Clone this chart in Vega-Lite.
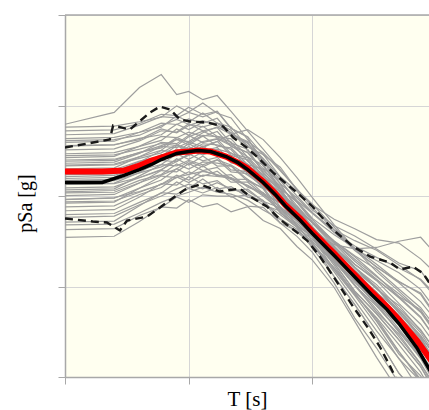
{
"$schema":"https://vega.github.io/schema/vega-lite/v6.json",
"width":364,"height":362,
"autosize":"none",
"padding":{"left":65,"top":15,"right":0,"bottom":33},
"background":"white",
"config":{"view":{"fill":"#FFFFF0","stroke":null},
"axis":{"labels":false,"grid":true,"gridColor":"#d6d6d6","gridWidth":1,"domainColor":"#a8a8a8","domainWidth":1.5,"tickColor":"#a8a8a8","tickSize":7,"tickWidth":1,"titleFont":"Liberation Serif","titleFontSize":20,"titleFontWeight":"normal","titleColor":"#000000"}},
"datasets":{
"gray":[
{"c":1,"T":0.01,"v":0.62},{"c":1,"T":0.025,"v":0.84},{"c":1,"T":0.04,"v":1.58},{"c":1,"T":0.06,"v":2.2},{"c":1,"T":0.08,"v":1.32},{"c":1,"T":0.1,"v":1.43},{"c":1,"T":0.13,"v":1.16},{"c":1,"T":0.17,"v":1.29},{"c":1,"T":0.22,"v":0.86},{"c":1,"T":0.3,"v":0.52},{"c":1,"T":0.4,"v":0.33},{"c":1,"T":0.55,"v":0.196},{"c":1,"T":0.75,"v":0.118},{"c":1,"T":1,"v":0.081},{"c":1,"T":1.5,"v":0.045},{"c":1,"T":2.2,"v":0.026},{"c":1,"T":3.3,"v":0.0146},{"c":1,"T":5,"v":0.0089},{"c":1,"T":7.5,"v":0.0053},{"c":1,"T":10,"v":0.0033},
{"c":2,"T":0.01,"v":0.524},{"c":2,"T":0.025,"v":0.538},{"c":2,"T":0.04,"v":0.632},{"c":2,"T":0.06,"v":0.8},{"c":2,"T":0.08,"v":0.774},{"c":2,"T":0.1,"v":0.955},{"c":2,"T":0.13,"v":0.796},{"c":2,"T":0.17,"v":0.867},{"c":2,"T":0.22,"v":0.561},{"c":2,"T":0.3,"v":0.452},{"c":2,"T":0.4,"v":0.285},{"c":2,"T":0.55,"v":0.208},{"c":2,"T":0.75,"v":0.117},{"c":2,"T":1,"v":0.0796},{"c":2,"T":1.5,"v":0.0553},{"c":2,"T":2.2,"v":0.0435},{"c":2,"T":3.3,"v":0.033},{"c":2,"T":5,"v":0.0302},{"c":2,"T":7.5,"v":0.0202},{"c":2,"T":10,"v":0.0138},
{"c":3,"T":0.01,"v":0.431},{"c":3,"T":0.025,"v":0.444},{"c":3,"T":0.04,"v":0.506},{"c":3,"T":0.06,"v":0.575},{"c":3,"T":0.08,"v":0.769},{"c":3,"T":0.1,"v":0.656},{"c":3,"T":0.13,"v":0.828},{"c":3,"T":0.17,"v":0.638},{"c":3,"T":0.22,"v":0.579},{"c":3,"T":0.3,"v":0.347},{"c":3,"T":0.4,"v":0.288},{"c":3,"T":0.55,"v":0.163},{"c":3,"T":0.75,"v":0.113},{"c":3,"T":1,"v":0.07},{"c":3,"T":1.5,"v":0.0468},{"c":3,"T":2.2,"v":0.0362},{"c":3,"T":3.3,"v":0.0259},{"c":3,"T":5,"v":0.0182},{"c":3,"T":7.5,"v":0.0149},{"c":3,"T":10,"v":0.00873},
{"c":4,"T":0.01,"v":0.392},{"c":4,"T":0.025,"v":0.403},{"c":4,"T":0.04,"v":0.507},{"c":4,"T":0.06,"v":0.637},{"c":4,"T":0.08,"v":0.617},{"c":4,"T":0.1,"v":0.71},{"c":4,"T":0.13,"v":0.634},{"c":4,"T":0.17,"v":0.723},{"c":4,"T":0.22,"v":0.479},{"c":4,"T":0.3,"v":0.391},{"c":4,"T":0.4,"v":0.215},{"c":4,"T":0.55,"v":0.137},{"c":4,"T":0.75,"v":0.0718},{"c":4,"T":1,"v":0.0462},{"c":4,"T":1.5,"v":0.0242},{"c":4,"T":2.2,"v":0.015},{"c":4,"T":3.3,"v":0.00957},{"c":4,"T":5,"v":0.0051},{"c":4,"T":7.5,"v":0.00289},{"c":4,"T":10,"v":0.00164},
{"c":5,"T":0.01,"v":0.356},{"c":5,"T":0.025,"v":0.366},{"c":5,"T":0.04,"v":0.434},{"c":5,"T":0.06,"v":0.475},{"c":5,"T":0.08,"v":0.621},{"c":5,"T":0.1,"v":0.542},{"c":5,"T":0.13,"v":0.653},{"c":5,"T":0.17,"v":0.634},{"c":5,"T":0.22,"v":0.533},{"c":5,"T":0.3,"v":0.313},{"c":5,"T":0.4,"v":0.247},{"c":5,"T":0.55,"v":0.137},{"c":5,"T":0.75,"v":0.0951},{"c":5,"T":1,"v":0.0644},{"c":5,"T":1.5,"v":0.0395},{"c":5,"T":2.2,"v":0.0257},{"c":5,"T":3.3,"v":0.0194},{"c":5,"T":5,"v":0.0142},{"c":5,"T":7.5,"v":0.0093},{"c":5,"T":10,"v":0.00553},
{"c":6,"T":0.01,"v":0.323},{"c":6,"T":0.025,"v":0.332},{"c":6,"T":0.04,"v":0.406},{"c":6,"T":0.06,"v":0.526},{"c":6,"T":0.08,"v":0.509},{"c":6,"T":0.1,"v":0.628},{"c":6,"T":0.13,"v":0.524},{"c":6,"T":0.17,"v":0.57},{"c":6,"T":0.22,"v":0.384},{"c":6,"T":0.3,"v":0.329},{"c":6,"T":0.4,"v":0.181},{"c":6,"T":0.55,"v":0.118},{"c":6,"T":0.75,"v":0.0611},{"c":6,"T":1,"v":0.0378},{"c":6,"T":1.5,"v":0.0191},{"c":6,"T":2.2,"v":0.01026},{"c":6,"T":3.3,"v":0.00526},{"c":6,"T":5,"v":0.00297},{"c":6,"T":7.5,"v":0.0014},{"c":6,"T":10,"v":0.000767},
{"c":7,"T":0.01,"v":0.293},{"c":7,"T":0.025,"v":0.301},{"c":7,"T":0.04,"v":0.354},{"c":7,"T":0.06,"v":0.411},{"c":7,"T":0.08,"v":0.55},{"c":7,"T":0.1,"v":0.469},{"c":7,"T":0.13,"v":0.592},{"c":7,"T":0.17,"v":0.456},{"c":7,"T":0.22,"v":0.428},{"c":7,"T":0.3,"v":0.269},{"c":7,"T":0.4,"v":0.22},{"c":7,"T":0.55,"v":0.123},{"c":7,"T":0.75,"v":0.0853},{"c":7,"T":1,"v":0.0521},{"c":7,"T":1.5,"v":0.0316},{"c":7,"T":2.2,"v":0.0213},{"c":7,"T":3.3,"v":0.01315},{"c":7,"T":5,"v":0.00776},{"c":7,"T":7.5,"v":0.00556},{"c":7,"T":10,"v":0.00301},
{"c":8,"T":0.01,"v":0.266},{"c":8,"T":0.025,"v":0.274},{"c":8,"T":0.04,"v":0.356},{"c":8,"T":0.06,"v":0.455},{"c":8,"T":0.08,"v":0.441},{"c":8,"T":0.1,"v":0.507},{"c":8,"T":0.13,"v":0.453},{"c":8,"T":0.17,"v":0.516},{"c":8,"T":0.22,"v":0.353},{"c":8,"T":0.3,"v":0.303},{"c":8,"T":0.4,"v":0.201},{"c":8,"T":0.55,"v":0.149},{"c":8,"T":0.75,"v":0.0887},{"c":8,"T":1,"v":0.0644},{"c":8,"T":1.5,"v":0.0423},{"c":8,"T":2.2,"v":0.0321},{"c":8,"T":3.3,"v":0.0252},{"c":8,"T":5,"v":0.0173},{"c":8,"T":7.5,"v":0.0118},{"c":8,"T":10,"v":0.0075},
{"c":9,"T":0.01,"v":0.242},{"c":9,"T":0.025,"v":0.248},{"c":9,"T":0.04,"v":0.303},{"c":9,"T":0.06,"v":0.34},{"c":9,"T":0.08,"v":0.444},{"c":9,"T":0.1,"v":0.387},{"c":9,"T":0.13,"v":0.467},{"c":9,"T":0.17,"v":0.453},{"c":9,"T":0.22,"v":0.394},{"c":9,"T":0.3,"v":0.242},{"c":9,"T":0.4,"v":0.172},{"c":9,"T":0.55,"v":0.0873},{"c":9,"T":0.75,"v":0.057},{"c":9,"T":1,"v":0.0357},{"c":9,"T":1.5,"v":0.0171},{"c":9,"T":2.2,"v":0.00822},{"c":9,"T":3.3,"v":0.00454},{"c":9,"T":5,"v":0.00228},{"c":9,"T":7.5,"v":0.00113},{"c":9,"T":10,"v":0.000566},
{"c":10,"T":0.01,"v":0.23},{"c":10,"T":0.025,"v":0.237},{"c":10,"T":0.04,"v":0.296},{"c":10,"T":0.06,"v":0.392},{"c":10,"T":0.08,"v":0.379},{"c":10,"T":0.1,"v":0.468},{"c":10,"T":0.13,"v":0.39},{"c":10,"T":0.17,"v":0.425},{"c":10,"T":0.22,"v":0.294},{"c":10,"T":0.3,"v":0.264},{"c":10,"T":0.4,"v":0.164},{"c":10,"T":0.55,"v":0.12},{"c":10,"T":0.75,"v":0.0679},{"c":10,"T":1,"v":0.0456},{"c":10,"T":1.5,"v":0.0267},{"c":10,"T":2.2,"v":0.0162},{"c":10,"T":3.3,"v":0.0094},{"c":10,"T":5,"v":0.00618},{"c":10,"T":7.5,"v":0.00325},{"c":10,"T":10,"v":0.00191},
{"c":11,"T":0.01,"v":0.219},{"c":11,"T":0.025,"v":0.225},{"c":11,"T":0.04,"v":0.271},{"c":11,"T":0.06,"v":0.32},{"c":11,"T":0.08,"v":0.428},{"c":11,"T":0.1,"v":0.365},{"c":11,"T":0.13,"v":0.46},{"c":11,"T":0.17,"v":0.355},{"c":11,"T":0.22,"v":0.34},{"c":11,"T":0.3,"v":0.222},{"c":11,"T":0.4,"v":0.198},{"c":11,"T":0.55,"v":0.119},{"c":11,"T":0.75,"v":0.0879},{"c":11,"T":1,"v":0.0566},{"c":11,"T":1.5,"v":0.0374},{"c":11,"T":2.2,"v":0.0267},{"c":11,"T":3.3,"v":0.0176},{"c":11,"T":5,"v":0.0112},{"c":11,"T":7.5,"v":0.00847},{"c":11,"T":10,"v":0.00475},
{"c":12,"T":0.01,"v":0.199},{"c":12,"T":0.025,"v":0.205},{"c":12,"T":0.04,"v":0.272},{"c":12,"T":0.06,"v":0.353},{"c":12,"T":0.08,"v":0.342},{"c":12,"T":0.1,"v":0.394},{"c":12,"T":0.13,"v":0.352},{"c":12,"T":0.17,"v":0.401},{"c":12,"T":0.22,"v":0.281},{"c":12,"T":0.3,"v":0.251},{"c":12,"T":0.4,"v":0.148},{"c":12,"T":0.55,"v":0.1},{"c":12,"T":0.75,"v":0.0558},{"c":12,"T":1,"v":0.0374},{"c":12,"T":1.5,"v":0.0193},{"c":12,"T":2.2,"v":0.0111},{"c":12,"T":3.3,"v":0.0065},{"c":12,"T":5,"v":0.00313},{"c":12,"T":7.5,"v":0.00165},{"c":12,"T":10,"v":0.000893},
{"c":13,"T":0.01,"v":0.19},{"c":13,"T":0.025,"v":0.195},{"c":13,"T":0.04,"v":0.243},{"c":13,"T":0.06,"v":0.275},{"c":13,"T":0.08,"v":0.36},{"c":13,"T":0.1,"v":0.314},{"c":13,"T":0.13,"v":0.378},{"c":13,"T":0.17,"v":0.367},{"c":13,"T":0.22,"v":0.326},{"c":13,"T":0.3,"v":0.207},{"c":13,"T":0.4,"v":0.172},{"c":13,"T":0.55,"v":0.0998},{"c":13,"T":0.75,"v":0.0726},{"c":13,"T":1,"v":0.0505},{"c":13,"T":1.5,"v":0.0299},{"c":13,"T":2.2,"v":0.0176},{"c":13,"T":3.3,"v":0.0119},{"c":13,"T":5,"v":0.00771},{"c":13,"T":7.5,"v":0.00461},{"c":13,"T":10,"v":0.00259},
{"c":14,"T":0.01,"v":0.181},{"c":14,"T":0.025,"v":0.186},{"c":14,"T":0.04,"v":0.238},{"c":14,"T":0.06,"v":0.318},{"c":14,"T":0.08,"v":0.308},{"c":14,"T":0.1,"v":0.379},{"c":14,"T":0.13,"v":0.316},{"c":14,"T":0.17,"v":0.344},{"c":14,"T":0.22,"v":0.243},{"c":14,"T":0.3,"v":0.225},{"c":14,"T":0.4,"v":0.129},{"c":14,"T":0.55,"v":0.0875},{"c":14,"T":0.75,"v":0.0471},{"c":14,"T":1,"v":0.0297},{"c":14,"T":1.5,"v":0.0145},{"c":14,"T":2.2,"v":0.00702},{"c":14,"T":3.3,"v":0.00324},{"c":14,"T":5,"v":0.00161},{"c":14,"T":7.5,"v":0.000693},{"c":14,"T":10,"v":0.000359},
{"c":15,"T":0.01,"v":0.164},{"c":15,"T":0.025,"v":0.169},{"c":15,"T":0.04,"v":0.207},{"c":15,"T":0.06,"v":0.248},{"c":15,"T":0.08,"v":0.332},{"c":15,"T":0.1,"v":0.283},{"c":15,"T":0.13,"v":0.357},{"c":15,"T":0.17,"v":0.275},{"c":15,"T":0.22,"v":0.271},{"c":15,"T":0.3,"v":0.184},{"c":15,"T":0.4,"v":0.157},{"c":15,"T":0.55,"v":0.0914},{"c":15,"T":0.75,"v":0.0658},{"c":15,"T":1,"v":0.041},{"c":15,"T":1.5,"v":0.0239},{"c":15,"T":2.2,"v":0.0146},{"c":15,"T":3.3,"v":0.00811},{"c":15,"T":5,"v":0.00422},{"c":15,"T":7.5,"v":0.00275},{"c":15,"T":10,"v":0.00141},
{"c":16,"T":0.01,"v":0.156},{"c":16,"T":0.025,"v":0.161},{"c":16,"T":0.04,"v":0.218},{"c":16,"T":0.06,"v":0.286},{"c":16,"T":0.08,"v":0.277},{"c":16,"T":0.1,"v":0.319},{"c":16,"T":0.13,"v":0.285},{"c":16,"T":0.17,"v":0.325},{"c":16,"T":0.22,"v":0.232},{"c":16,"T":0.3,"v":0.214},{"c":16,"T":0.4,"v":0.146},{"c":16,"T":0.55,"v":0.112},{"c":16,"T":0.75,"v":0.069},{"c":16,"T":1,"v":0.0509},{"c":16,"T":1.5,"v":0.0319},{"c":16,"T":2.2,"v":0.0219},{"c":16,"T":3.3,"v":0.0155},{"c":16,"T":5,"v":0.0094},{"c":16,"T":7.5,"v":0.00583},{"c":16,"T":10,"v":0.00351},
{"c":17,"T":0.01,"v":0.149},{"c":17,"T":0.025,"v":0.153},{"c":17,"T":0.04,"v":0.194},{"c":17,"T":0.06,"v":0.223},{"c":17,"T":0.08,"v":0.291},{"c":17,"T":0.1,"v":0.254},{"c":17,"T":0.13,"v":0.306},{"c":17,"T":0.17,"v":0.297},{"c":17,"T":0.22,"v":0.269},{"c":17,"T":0.3,"v":0.176},{"c":17,"T":0.4,"v":0.138},{"c":17,"T":0.55,"v":0.076},{"c":17,"T":0.75,"v":0.0532},{"c":17,"T":1,"v":0.0354},{"c":17,"T":1.5,"v":0.0181},{"c":17,"T":2.2,"v":0.00887},{"c":17,"T":3.3,"v":0.005},{"c":17,"T":5,"v":0.00257},{"c":17,"T":7.5,"v":0.0013},{"c":17,"T":10,"v":0.000659},
{"c":18,"T":0.01,"v":0.135},{"c":18,"T":0.025,"v":0.139},{"c":18,"T":0.04,"v":0.182},{"c":18,"T":0.06,"v":0.247},{"c":18,"T":0.08,"v":0.239},{"c":18,"T":0.1,"v":0.294},{"c":18,"T":0.13,"v":0.245},{"c":18,"T":0.17,"v":0.267},{"c":18,"T":0.22,"v":0.194},{"c":18,"T":0.3,"v":0.186},{"c":18,"T":0.4,"v":0.126},{"c":18,"T":0.55,"v":0.0984},{"c":18,"T":0.75,"v":0.0593},{"c":18,"T":1,"v":0.0418},{"c":18,"T":1.5,"v":0.0253},{"c":18,"T":2.2,"v":0.015},{"c":18,"T":3.3,"v":0.00853},{"c":18,"T":5,"v":0.00547},{"c":18,"T":7.5,"v":0.00282},{"c":18,"T":10,"v":0.00164},
{"c":19,"T":0.01,"v":0.123},{"c":19,"T":0.025,"v":0.126},{"c":19,"T":0.04,"v":0.159},{"c":19,"T":0.06,"v":0.193},{"c":19,"T":0.08,"v":0.258},{"c":19,"T":0.1,"v":0.22},{"c":19,"T":0.13,"v":0.277},{"c":19,"T":0.17,"v":0.214},{"c":19,"T":0.22,"v":0.216},{"c":19,"T":0.3,"v":0.152},{"c":19,"T":0.4,"v":0.12},{"c":19,"T":0.55,"v":0.0656},{"c":19,"T":0.75,"v":0.0451},{"c":19,"T":1,"v":0.0266},{"c":19,"T":1.5,"v":0.0129},{"c":19,"T":2.2,"v":0.00631},{"c":19,"T":3.3,"v":0.0028},{"c":19,"T":5,"v":0.0011},{"c":19,"T":7.5,"v":0.000587},{"c":19,"T":10,"v":0.000265},
{"c":20,"T":0.01,"v":0.117},{"c":20,"T":0.025,"v":0.12},{"c":20,"T":0.04,"v":0.167},{"c":20,"T":0.06,"v":0.222},{"c":20,"T":0.08,"v":0.215},{"c":20,"T":0.1,"v":0.248},{"c":20,"T":0.13,"v":0.221},{"c":20,"T":0.17,"v":0.252},{"c":20,"T":0.22,"v":0.185},{"c":20,"T":0.3,"v":0.177},{"c":20,"T":0.4,"v":0.123},{"c":20,"T":0.55,"v":0.0955},{"c":20,"T":0.75,"v":0.0597},{"c":20,"T":1,"v":0.0444},{"c":20,"T":1.5,"v":0.027},{"c":20,"T":2.2,"v":0.0175},{"c":20,"T":3.3,"v":0.0116},{"c":20,"T":5,"v":0.00652},{"c":20,"T":7.5,"v":0.00383},{"c":20,"T":10,"v":0.00222},
{"c":21,"T":0.01,"v":0.111},{"c":21,"T":0.025,"v":0.115},{"c":21,"T":0.04,"v":0.149},{"c":21,"T":0.06,"v":0.173},{"c":21,"T":0.08,"v":0.226},{"c":21,"T":0.1,"v":0.198},{"c":21,"T":0.13,"v":0.238},{"c":21,"T":0.17,"v":0.231},{"c":21,"T":0.22,"v":0.214},{"c":21,"T":0.3,"v":0.146},{"c":21,"T":0.4,"v":0.123},{"c":21,"T":0.55,"v":0.0721},{"c":21,"T":0.75,"v":0.0532},{"c":21,"T":1,"v":0.0371},{"c":21,"T":1.5,"v":0.0202},{"c":21,"T":2.2,"v":0.0103},{"c":21,"T":3.3,"v":0.00607},{"c":21,"T":5,"v":0.00328},{"c":21,"T":7.5,"v":0.00173},{"c":21,"T":10,"v":0.000893},
{"c":22,"T":0.01,"v":0.101},{"c":22,"T":0.025,"v":0.104},{"c":22,"T":0.04,"v":0.139},{"c":22,"T":0.06,"v":0.191},{"c":22,"T":0.08,"v":0.185},{"c":22,"T":0.1,"v":0.229},{"c":22,"T":0.13,"v":0.191},{"c":22,"T":0.17,"v":0.207},{"c":22,"T":0.22,"v":0.154},{"c":22,"T":0.3,"v":0.153},{"c":22,"T":0.4,"v":0.107},{"c":22,"T":0.55,"v":0.0855},{"c":22,"T":0.75,"v":0.0528},{"c":22,"T":1,"v":0.0378},{"c":22,"T":1.5,"v":0.0226},{"c":22,"T":2.2,"v":0.0129},{"c":22,"T":3.3,"v":0.00703},{"c":22,"T":5,"v":0.00429},{"c":22,"T":7.5,"v":0.00213},{"c":22,"T":10,"v":0.00121},
{"c":23,"T":0.01,"v":0.0918},{"c":23,"T":0.025,"v":0.0944},{"c":23,"T":0.04,"v":0.122},{"c":23,"T":0.06,"v":0.15},{"c":23,"T":0.08,"v":0.2},{"c":23,"T":0.1,"v":0.171},{"c":23,"T":0.13,"v":0.216},{"c":23,"T":0.17,"v":0.166},{"c":23,"T":0.22,"v":0.172},{"c":23,"T":0.3,"v":0.125},{"c":23,"T":0.4,"v":0.109},{"c":23,"T":0.55,"v":0.065},{"c":23,"T":0.75,"v":0.0478},{"c":23,"T":1,"v":0.03},{"c":23,"T":1.5,"v":0.0161},{"c":23,"T":2.2,"v":0.00855},{"c":23,"T":3.3,"v":0.00412},{"c":23,"T":5,"v":0.00179},{"c":23,"T":7.5,"v":0.00103},{"c":23,"T":10,"v":0.000486},
{"c":24,"T":0.01,"v":0.0834},{"c":24,"T":0.025,"v":0.0857},{"c":24,"T":0.04,"v":0.122},{"c":24,"T":0.06,"v":0.166},{"c":24,"T":0.08,"v":0.16},{"c":24,"T":0.1,"v":0.185},{"c":24,"T":0.13,"v":0.165},{"c":24,"T":0.17,"v":0.188},{"c":24,"T":0.22,"v":0.142},{"c":24,"T":0.3,"v":0.142},{"c":24,"T":0.4,"v":0.103},{"c":24,"T":0.55,"v":0.0836},{"c":24,"T":0.75,"v":0.0542},{"c":24,"T":1,"v":0.0414},{"c":24,"T":1.5,"v":0.0255},{"c":24,"T":2.2,"v":0.0162},{"c":24,"T":3.3,"v":0.0105},{"c":24,"T":5,"v":0.00577},{"c":24,"T":7.5,"v":0.00333},{"c":24,"T":10,"v":0.00191},
{"c":25,"T":0.01,"v":0.0757},{"c":25,"T":0.025,"v":0.0778},{"c":25,"T":0.04,"v":0.104},{"c":25,"T":0.06,"v":0.124},{"c":25,"T":0.08,"v":0.162},{"c":25,"T":0.1,"v":0.141},{"c":25,"T":0.13,"v":0.17},{"c":25,"T":0.17,"v":0.165},{"c":25,"T":0.22,"v":0.158},{"c":25,"T":0.3,"v":0.113},{"c":25,"T":0.4,"v":0.0893},{"c":25,"T":0.55,"v":0.0501},{"c":25,"T":0.75,"v":0.0358},{"c":25,"T":1,"v":0.0238},{"c":25,"T":1.5,"v":0.0109},{"c":25,"T":2.2,"v":0.00448},{"c":25,"T":3.3,"v":0.00209},{"c":25,"T":5,"v":0.000857},{"c":25,"T":7.5,"v":0.000368},{"c":25,"T":10,"v":0.000168},
{"c":26,"T":0.01,"v":0.0687},{"c":26,"T":0.025,"v":0.0706},{"c":26,"T":0.04,"v":0.0975},{"c":26,"T":0.06,"v":0.137},{"c":26,"T":0.08,"v":0.132},{"c":26,"T":0.1,"v":0.163},{"c":26,"T":0.13,"v":0.136},{"c":26,"T":0.17,"v":0.148},{"c":26,"T":0.22,"v":0.114},{"c":26,"T":0.3,"v":0.119},{"c":26,"T":0.4,"v":0.0875},{"c":26,"T":0.55,"v":0.0736},{"c":26,"T":0.75,"v":0.0475},{"c":26,"T":1,"v":0.0351},{"c":26,"T":1.5,"v":0.0214},{"c":26,"T":2.2,"v":0.0119},{"c":26,"T":3.3,"v":0.00638},{"c":26,"T":5,"v":0.00379},{"c":26,"T":7.5,"v":0.00185},{"c":26,"T":10,"v":0.00104},
{"c":27,"T":0.01,"v":0.0624},{"c":27,"T":0.025,"v":0.0641},{"c":27,"T":0.04,"v":0.0851},{"c":27,"T":0.06,"v":0.107},{"c":27,"T":0.08,"v":0.143},{"c":27,"T":0.1,"v":0.122},{"c":27,"T":0.13,"v":0.154},{"c":27,"T":0.17,"v":0.119},{"c":27,"T":0.22,"v":0.127},{"c":27,"T":0.3,"v":0.0973},{"c":27,"T":0.4,"v":0.0893},{"c":27,"T":0.55,"v":0.056},{"c":27,"T":0.75,"v":0.043},{"c":27,"T":1,"v":0.0279},{"c":27,"T":1.5,"v":0.0153},{"c":27,"T":2.2,"v":0.00793},{"c":27,"T":3.3,"v":0.00374},{"c":27,"T":5,"v":0.00159},{"c":27,"T":7.5,"v":0.000895},{"c":27,"T":10,"v":0.000418},
{"c":28,"T":0.01,"v":0.0514},{"c":28,"T":0.025,"v":0.0528},{"c":28,"T":0.04,"v":0.0782},{"c":28,"T":0.06,"v":0.109},{"c":28,"T":0.08,"v":0.105},{"c":28,"T":0.1,"v":0.121},{"c":28,"T":0.13,"v":0.108},{"c":28,"T":0.17,"v":0.124},{"c":28,"T":0.22,"v":0.097},{"c":28,"T":0.3,"v":0.103},{"c":28,"T":0.4,"v":0.0796},{"c":28,"T":0.55,"v":0.0682},{"c":28,"T":0.75,"v":0.0465},{"c":28,"T":1,"v":0.0367},{"c":28,"T":1.5,"v":0.0228},{"c":28,"T":2.2,"v":0.0139},{"c":28,"T":3.3,"v":0.00869},{"c":28,"T":5,"v":0.00452},{"c":28,"T":7.5,"v":0.00251},{"c":28,"T":10,"v":0.00141},
{"c":29,"T":0.01,"v":0.0424},{"c":29,"T":0.025,"v":0.0436},{"c":29,"T":0.04,"v":0.061},{"c":29,"T":0.06,"v":0.0748},{"c":29,"T":0.08,"v":0.0977},{"c":29,"T":0.1,"v":0.0853},{"c":29,"T":0.13,"v":0.103},{"c":29,"T":0.17,"v":0.0998},{"c":29,"T":0.22,"v":0.1},{"c":29,"T":0.3,"v":0.0773},{"c":29,"T":0.4,"v":0.075},{"c":29,"T":0.55,"v":0.0501},{"c":29,"T":0.75,"v":0.0414},{"c":29,"T":1,"v":0.0314},{"c":29,"T":1.5,"v":0.0181},{"c":29,"T":2.2,"v":0.00887},{"c":29,"T":3.3,"v":0.005},{"c":29,"T":5,"v":0.00257},{"c":29,"T":7.5,"v":0.0013},{"c":29,"T":10,"v":0.000659},
{"c":30,"T":0.01,"v":0.0349},{"c":30,"T":0.025,"v":0.0359},{"c":30,"T":0.04,"v":0.0522},{"c":30,"T":0.06,"v":0.076},{"c":30,"T":0.08,"v":0.0736},{"c":30,"T":0.1,"v":0.0908},{"c":30,"T":0.13,"v":0.0757},{"c":30,"T":0.17,"v":0.0824},{"c":30,"T":0.22,"v":0.0668},{"c":30,"T":0.3,"v":0.0762},{"c":30,"T":0.4,"v":0.0536},{"c":30,"T":0.55,"v":0.0437},{"c":30,"T":0.75,"v":0.0277},{"c":30,"T":1,"v":0.0196},{"c":30,"T":1.5,"v":0.00975},{"c":30,"T":2.2,"v":0.00412},{"c":30,"T":3.3,"v":0.00165},{"c":30,"T":5,"v":0.000687},{"c":30,"T":7.5,"v":0.00026},{"c":30,"T":10,"v":0.000124},
{"c":31,"T":0.01,"v":0.577},{"c":31,"T":0.025,"v":0.593},{"c":31,"T":0.04,"v":0.661},{"c":31,"T":0.06,"v":0.741},{"c":31,"T":0.08,"v":0.991},{"c":31,"T":0.1,"v":0.845},{"c":31,"T":0.13,"v":1.067},{"c":31,"T":0.17,"v":0.822},{"c":31,"T":0.22,"v":0.728},{"c":31,"T":0.3,"v":0.42},{"c":31,"T":0.4,"v":0.253},{"c":31,"T":0.55,"v":0.11},{"c":31,"T":0.75,"v":0.0614},{"c":31,"T":1,"v":0.0308},{"c":31,"T":1.5,"v":0.0129},{"c":31,"T":2.2,"v":0.00631},{"c":31,"T":3.3,"v":0.0028},{"c":31,"T":5,"v":0.0011},{"c":31,"T":7.5,"v":0.000587},{"c":31,"T":10,"v":0.000265},
{"c":32,"T":0.01,"v":0.475},{"c":32,"T":0.025,"v":0.489},{"c":32,"T":0.04,"v":0.607},{"c":32,"T":0.06,"v":0.753},{"c":32,"T":0.08,"v":0.729},{"c":32,"T":0.1,"v":0.839},{"c":32,"T":0.13,"v":0.75},{"c":32,"T":0.17,"v":0.855},{"c":32,"T":0.22,"v":0.557},{"c":32,"T":0.3,"v":0.445},{"c":32,"T":0.4,"v":0.215},{"c":32,"T":0.55,"v":0.123},{"c":32,"T":0.75,"v":0.0592},{"c":32,"T":1,"v":0.0351},{"c":32,"T":1.5,"v":0.0154},{"c":32,"T":2.2,"v":0.00817},{"c":32,"T":3.3,"v":0.00442},{"c":32,"T":5,"v":0.00192},{"c":32,"T":7.5,"v":0.00094},{"c":32,"T":10,"v":0.000486},
{"c":33,"T":0.01,"v":0.134},{"c":33,"T":0.025,"v":0.137},{"c":33,"T":0.04,"v":0.16},{"c":33,"T":0.06,"v":0.196},{"c":33,"T":0.08,"v":0.24},{"c":33,"T":0.1,"v":0.29},{"c":33,"T":0.13,"v":0.343},{"c":33,"T":0.17,"v":0.4},{"c":33,"T":0.22,"v":0.48},{"c":33,"T":0.3,"v":0.54},{"c":33,"T":0.4,"v":0.42},{"c":33,"T":0.55,"v":0.266},{"c":33,"T":0.75,"v":0.16},{"c":33,"T":1,"v":0.096},{"c":33,"T":1.5,"v":0.048},{"c":33,"T":2.2,"v":0.026},{"c":33,"T":3.3,"v":0.0163},{"c":33,"T":5,"v":0.0114},{"c":33,"T":7.5,"v":0.0082},{"c":33,"T":10,"v":0.0046},
{"c":34,"T":0.01,"v":0.091},{"c":34,"T":0.025,"v":0.096},{"c":34,"T":0.04,"v":0.112},{"c":34,"T":0.06,"v":0.134},{"c":34,"T":0.08,"v":0.16},{"c":34,"T":0.1,"v":0.173},{"c":34,"T":0.13,"v":0.187},{"c":34,"T":0.17,"v":0.173},{"c":34,"T":0.22,"v":0.152},{"c":34,"T":0.3,"v":0.131},{"c":34,"T":0.4,"v":0.104},{"c":34,"T":0.55,"v":0.075},{"c":34,"T":0.75,"v":0.055},{"c":34,"T":1,"v":0.0405},{"c":34,"T":1.5,"v":0.029},{"c":34,"T":2.2,"v":0.026},{"c":34,"T":3.3,"v":0.027},{"c":34,"T":5,"v":0.0316},{"c":34,"T":7.5,"v":0.035},{"c":34,"T":10,"v":0.0226},
{"c":35,"T":0.01,"v":0.41},{"c":35,"T":0.025,"v":0.42},{"c":35,"T":0.04,"v":0.47},{"c":35,"T":0.06,"v":0.6},{"c":35,"T":0.08,"v":0.7},{"c":35,"T":0.1,"v":0.62},{"c":35,"T":0.13,"v":0.58},{"c":35,"T":0.17,"v":0.64},{"c":35,"T":0.22,"v":0.5},{"c":35,"T":0.3,"v":0.36},{"c":35,"T":0.4,"v":0.25},{"c":35,"T":0.55,"v":0.15},{"c":35,"T":0.75,"v":0.085},{"c":35,"T":1,"v":0.055},{"c":35,"T":1.5,"v":0.031},{"c":35,"T":2.2,"v":0.019},{"c":35,"T":3.3,"v":0.012},{"c":35,"T":5,"v":0.0075},{"c":35,"T":7.5,"v":0.0045},{"c":35,"T":10,"v":0.0026},
{"c":36,"T":0.01,"v":0.28},{"c":36,"T":0.025,"v":0.285},{"c":36,"T":0.04,"v":0.33},{"c":36,"T":0.06,"v":0.38},{"c":36,"T":0.08,"v":0.36},{"c":36,"T":0.1,"v":0.45},{"c":36,"T":0.13,"v":0.52},{"c":36,"T":0.17,"v":0.44},{"c":36,"T":0.22,"v":0.37},{"c":36,"T":0.3,"v":0.3},{"c":36,"T":0.4,"v":0.19},{"c":36,"T":0.55,"v":0.13},{"c":36,"T":0.75,"v":0.078},{"c":36,"T":1,"v":0.05},{"c":36,"T":1.5,"v":0.028},{"c":36,"T":2.2,"v":0.0165},{"c":36,"T":3.3,"v":0.0098},{"c":36,"T":5,"v":0.0052},{"c":36,"T":7.5,"v":0.0027},{"c":36,"T":10,"v":0.0014},
{"c":37,"T":0.01,"v":0.215},{"c":37,"T":0.025,"v":0.22},{"c":37,"T":0.04,"v":0.26},{"c":37,"T":0.06,"v":0.3},{"c":37,"T":0.08,"v":0.37},{"c":37,"T":0.1,"v":0.33},{"c":37,"T":0.13,"v":0.4},{"c":37,"T":0.17,"v":0.43},{"c":37,"T":0.22,"v":0.36},{"c":37,"T":0.3,"v":0.27},{"c":37,"T":0.4,"v":0.18},{"c":37,"T":0.55,"v":0.11},{"c":37,"T":0.75,"v":0.075},{"c":37,"T":1,"v":0.051},{"c":37,"T":1.5,"v":0.031},{"c":37,"T":2.2,"v":0.02},{"c":37,"T":3.3,"v":0.0128},{"c":37,"T":5,"v":0.0083},{"c":37,"T":7.5,"v":0.0052},{"c":37,"T":10,"v":0.003},
{"c":38,"T":0.01,"v":0.172},{"c":38,"T":0.025,"v":0.176},{"c":38,"T":0.04,"v":0.22},{"c":38,"T":0.06,"v":0.26},{"c":38,"T":0.08,"v":0.3},{"c":38,"T":0.1,"v":0.35},{"c":38,"T":0.13,"v":0.3},{"c":38,"T":0.17,"v":0.33},{"c":38,"T":0.22,"v":0.3},{"c":38,"T":0.3,"v":0.22},{"c":38,"T":0.4,"v":0.165},{"c":38,"T":0.55,"v":0.105},{"c":38,"T":0.75,"v":0.068},{"c":38,"T":1,"v":0.045},{"c":38,"T":1.5,"v":0.027},{"c":38,"T":2.2,"v":0.016},{"c":38,"T":3.3,"v":0.0097},{"c":38,"T":5,"v":0.0055},{"c":38,"T":7.5,"v":0.0031},{"c":38,"T":10,"v":0.0017},
{"c":39,"T":0.01,"v":0.145},{"c":39,"T":0.025,"v":0.148},{"c":39,"T":0.04,"v":0.18},{"c":39,"T":0.06,"v":0.21},{"c":39,"T":0.08,"v":0.25},{"c":39,"T":0.1,"v":0.28},{"c":39,"T":0.13,"v":0.33},{"c":39,"T":0.17,"v":0.28},{"c":39,"T":0.22,"v":0.25},{"c":39,"T":0.3,"v":0.2},{"c":39,"T":0.4,"v":0.15},{"c":39,"T":0.55,"v":0.092},{"c":39,"T":0.75,"v":0.061},{"c":39,"T":1,"v":0.041},{"c":39,"T":1.5,"v":0.023},{"c":39,"T":2.2,"v":0.013},{"c":39,"T":3.3,"v":0.0068},{"c":39,"T":5,"v":0.0034},{"c":39,"T":7.5,"v":0.0017},{"c":39,"T":10,"v":0.0009},
{"c":40,"T":0.01,"v":0.108},{"c":40,"T":0.025,"v":0.11},{"c":40,"T":0.04,"v":0.14},{"c":40,"T":0.06,"v":0.17},{"c":40,"T":0.08,"v":0.2},{"c":40,"T":0.1,"v":0.24},{"c":40,"T":0.13,"v":0.21},{"c":40,"T":0.17,"v":0.25},{"c":40,"T":0.22,"v":0.22},{"c":40,"T":0.3,"v":0.17},{"c":40,"T":0.4,"v":0.13},{"c":40,"T":0.55,"v":0.085},{"c":40,"T":0.75,"v":0.058},{"c":40,"T":1,"v":0.04},{"c":40,"T":1.5,"v":0.024},{"c":40,"T":2.2,"v":0.0145},{"c":40,"T":3.3,"v":0.0085},{"c":40,"T":5,"v":0.0048},{"c":40,"T":7.5,"v":0.0026},{"c":40,"T":10,"v":0.0014},
{"c":41,"T":0.01,"v":0.086},{"c":41,"T":0.025,"v":0.088},{"c":41,"T":0.04,"v":0.11},{"c":41,"T":0.06,"v":0.135},{"c":41,"T":0.08,"v":0.17},{"c":41,"T":0.1,"v":0.15},{"c":41,"T":0.13,"v":0.19},{"c":41,"T":0.17,"v":0.17},{"c":41,"T":0.22,"v":0.16},{"c":41,"T":0.3,"v":0.13},{"c":41,"T":0.4,"v":0.1},{"c":41,"T":0.55,"v":0.07},{"c":41,"T":0.75,"v":0.05},{"c":41,"T":1,"v":0.035},{"c":41,"T":1.5,"v":0.02},{"c":41,"T":2.2,"v":0.0115},{"c":41,"T":3.3,"v":0.0062},{"c":41,"T":5,"v":0.0032},{"c":41,"T":7.5,"v":0.0016},{"c":41,"T":10,"v":0.0008},
{"c":42,"T":0.01,"v":0.058},{"c":42,"T":0.025,"v":0.06},{"c":42,"T":0.04,"v":0.08},{"c":42,"T":0.06,"v":0.1},{"c":42,"T":0.08,"v":0.12},{"c":42,"T":0.1,"v":0.135},{"c":42,"T":0.13,"v":0.12},{"c":42,"T":0.17,"v":0.14},{"c":42,"T":0.22,"v":0.12},{"c":42,"T":0.3,"v":0.105},{"c":42,"T":0.4,"v":0.085},{"c":42,"T":0.55,"v":0.062},{"c":42,"T":0.75,"v":0.045},{"c":42,"T":1,"v":0.033},{"c":42,"T":1.5,"v":0.019},{"c":42,"T":2.2,"v":0.0105},{"c":42,"T":3.3,"v":0.0056},{"c":42,"T":5,"v":0.0028},{"c":42,"T":7.5,"v":0.0014},{"c":42,"T":10,"v":0.0007},
{"c":43,"T":0.01,"v":0.048},{"c":43,"T":0.025,"v":0.049},{"c":43,"T":0.04,"v":0.065},{"c":43,"T":0.06,"v":0.085},{"c":43,"T":0.08,"v":0.1},{"c":43,"T":0.1,"v":0.11},{"c":43,"T":0.13,"v":0.125},{"c":43,"T":0.17,"v":0.11},{"c":43,"T":0.22,"v":0.105},{"c":43,"T":0.3,"v":0.09},{"c":43,"T":0.4,"v":0.07},{"c":43,"T":0.55,"v":0.055},{"c":43,"T":0.75,"v":0.04},{"c":43,"T":1,"v":0.029},{"c":43,"T":1.5,"v":0.016},{"c":43,"T":2.2,"v":0.0085},{"c":43,"T":3.3,"v":0.0042},{"c":43,"T":5,"v":0.0019},{"c":43,"T":7.5,"v":0.0009},{"c":43,"T":10,"v":0.00045},
{"c":44,"T":0.01,"v":0.36},{"c":44,"T":0.025,"v":0.37},{"c":44,"T":0.04,"v":0.42},{"c":44,"T":0.06,"v":0.55},{"c":44,"T":0.08,"v":0.5},{"c":44,"T":0.1,"v":0.6},{"c":44,"T":0.13,"v":0.68},{"c":44,"T":0.17,"v":0.6},{"c":44,"T":0.22,"v":0.5},{"c":44,"T":0.3,"v":0.38},{"c":44,"T":0.4,"v":0.26},{"c":44,"T":0.55,"v":0.16},{"c":44,"T":0.75,"v":0.1},{"c":44,"T":1,"v":0.066},{"c":44,"T":1.5,"v":0.04},{"c":44,"T":2.2,"v":0.028},{"c":44,"T":3.3,"v":0.021},{"c":44,"T":5,"v":0.016},{"c":44,"T":7.5,"v":0.012},{"c":44,"T":10,"v":0.008},
{"c":45,"T":0.01,"v":0.25},{"c":45,"T":0.025,"v":0.255},{"c":45,"T":0.04,"v":0.3},{"c":45,"T":0.06,"v":0.36},{"c":45,"T":0.08,"v":0.42},{"c":45,"T":0.1,"v":0.4},{"c":45,"T":0.13,"v":0.5},{"c":45,"T":0.17,"v":0.58},{"c":45,"T":0.22,"v":0.48},{"c":45,"T":0.3,"v":0.4},{"c":45,"T":0.4,"v":0.3},{"c":45,"T":0.55,"v":0.19},{"c":45,"T":0.75,"v":0.12},{"c":45,"T":1,"v":0.075},{"c":45,"T":1.5,"v":0.042},{"c":45,"T":2.2,"v":0.025},{"c":45,"T":3.3,"v":0.0165},{"c":45,"T":5,"v":0.011},{"c":45,"T":7.5,"v":0.0068},{"c":45,"T":10,"v":0.0042}
],
"red":[
{"T":0.01,"v":0.187},{"T":0.02,"v":0.187},{"T":0.03,"v":0.191},{"T":0.04,"v":0.217},{"T":0.05,"v":0.247},{"T":0.06,"v":0.266},{"T":0.08,"v":0.303},{"T":0.1,"v":0.31},{"T":0.12,"v":0.318},{"T":0.15,"v":0.31},{"T":0.2,"v":0.273},{"T":0.25,"v":0.234},{"T":0.3,"v":0.201},{"T":0.4,"v":0.145},{"T":0.5,"v":0.107},{"T":0.6,"v":0.0805},{"T":0.8,"v":0.0564},{"T":1,"v":0.0405},{"T":1.5,"v":0.0232},{"T":2,"v":0.0154},{"T":3,"v":0.0088},{"T":4,"v":0.006},{"T":5,"v":0.00432},{"T":7,"v":0.00253},{"T":10,"v":0.00127}
],
"black":[
{"T":0.01,"v":0.141},{"T":0.02,"v":0.141},{"T":0.03,"v":0.169},{"T":0.04,"v":0.196},{"T":0.05,"v":0.223},{"T":0.06,"v":0.253},{"T":0.08,"v":0.295},{"T":0.1,"v":0.31},{"T":0.12,"v":0.318},{"T":0.15,"v":0.31},{"T":0.2,"v":0.273},{"T":0.25,"v":0.234},{"T":0.3,"v":0.196},{"T":0.4,"v":0.141},{"T":0.5,"v":0.104},{"T":0.6,"v":0.0785},{"T":0.8,"v":0.0536},{"T":1,"v":0.0385},{"T":1.5,"v":0.022},{"T":2,"v":0.0146},{"T":3,"v":0.00816},{"T":4,"v":0.00557},{"T":5,"v":0.0039},{"T":7,"v":0.0021},{"T":10,"v":0.0009}
],
"sd":[
{"s":"up","T":0.01,"v":0.343},{"s":"up","T":0.023,"v":0.421},{"s":"up","T":0.0245,"v":0.601},{"s":"up","T":0.0335,"v":0.543},{"s":"up","T":0.0486,"v":0.837},{"s":"up","T":0.0587,"v":0.975},{"s":"up","T":0.0707,"v":0.903},{"s":"up","T":0.0851,"v":0.7},{"s":"up","T":0.1025,"v":0.666},{"s":"up","T":0.141,"v":0.649},{"s":"up","T":0.19,"v":0.586},{"s":"up","T":0.229,"v":0.443},{"s":"up","T":0.295,"v":0.343},{"s":"up","T":0.377,"v":0.253},{"s":"up","T":0.479,"v":0.182},{"s":"up","T":0.75,"v":0.109},{"s":"up","T":1,"v":0.0766},{"s":"up","T":1.46,"v":0.0427},{"s":"up","T":2.13,"v":0.0277},{"s":"up","T":2.94,"v":0.0214},{"s":"up","T":4.24,"v":0.0184},{"s":"up","T":5.1,"v":0.0154},{"s":"up","T":6.5,"v":0.0166},{"s":"up","T":7.9,"v":0.0138},{"s":"up","T":10,"v":0.0085},
{"s":"lo","T":0.01,"v":0.0564},{"s":"lo","T":0.0168,"v":0.0523},{"s":"lo","T":0.0218,"v":0.0509},{"s":"lo","T":0.0254,"v":0.0449},{"s":"lo","T":0.0278,"v":0.0416},{"s":"lo","T":0.0317,"v":0.0536},{"s":"lo","T":0.046,"v":0.0593},{"s":"lo","T":0.0586,"v":0.0746},{"s":"lo","T":0.0775,"v":0.0987},{"s":"lo","T":0.0934,"v":0.118},{"s":"lo","T":0.1233,"v":0.134},{"s":"lo","T":0.179,"v":0.112},{"s":"lo","T":0.259,"v":0.121},{"s":"lo","T":0.313,"v":0.0987},{"s":"lo","T":0.428,"v":0.0766},{"s":"lo","T":0.548,"v":0.055},{"s":"lo","T":0.699,"v":0.0427},{"s":"lo","T":0.907,"v":0.0322},{"s":"lo","T":1.153,"v":0.0214},{"s":"lo","T":1.67,"v":0.01},{"s":"lo","T":2.13,"v":0.006},{"s":"lo","T":2.77,"v":0.00361},{"s":"lo","T":3.5,"v":0.00217},{"s":"lo","T":4.25,"v":0.00131},{"s":"lo","T":5.1,"v":0.000785}
]
},
"encoding":{
"x":{"field":"T","type":"quantitative","scale":{"type":"log","domain":[0.01,8.76],"nice":false},"axis":{"values":[0.01,0.1,1],"title":"T [s]","titlePadding":4,"titleFontSize":21}},
"y":{"field":"v","type":"quantitative","scale":{"type":"log","domain":[0.001,10],"nice":false},"axis":{"values":[0.001,0.01,0.1,1,10],"title":"pSa [g]","titlePadding":22,"titleY":188}}
},
"layer":[
{"data":{"name":"gray"},"mark":{"type":"line","clip":true,"color":"#9e9e9e","strokeWidth":1.2},"encoding":{"detail":{"field":"c","type":"nominal"}}},
{"data":{"values":[{"v":10}]},"mark":{"type":"rule","color":"#a8a8a8","strokeWidth":1.5},"encoding":{"x":{"value":0},"x2":{"value":364}}},
{"data":{"name":"red"},"mark":{"type":"line","clip":true,"color":"#ff0000","strokeWidth":6}},
{"data":{"name":"black"},"mark":{"type":"line","clip":true,"color":"#000000","strokeWidth":3.5}},
{"data":{"name":"sd"},"mark":{"type":"line","clip":true,"color":"#1a1a1a","strokeWidth":2.4,"strokeDash":[8,5]},"encoding":{"detail":{"field":"s","type":"nominal"}}}
]
}
